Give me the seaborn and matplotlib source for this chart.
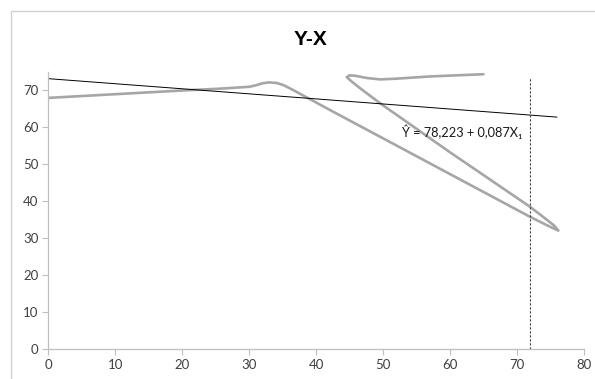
import numpy as np
import pandas as pd
import seaborn as sns
import matplotlib.pyplot as plt
from matplotlib.patches import Rectangle

# curve (in drawing order)
curve_x = [0, 10, 20, 25.7, 30, 31, 32, 33, 34.2, 35.2, 36.5, 42.1, 57, 72, 75, 76.2,
           75.6, 74.5, 72, 60, 49.6, 46.8, 45.2, 44.6, 45.0, 45.8, 47.5, 49.6, 52, 57, 65]
curve_y = [68, 69, 70, 70.5, 71.0, 71.4, 71.95, 72.2, 72.0, 71.4, 70.2, 64.7, 50.3, 35.8, 33.1, 32.1,
           33.4, 35.0, 38.5, 53.3, 66.5, 70.3, 72.6, 73.6, 74.1, 74.0, 73.4, 73.0, 73.2, 73.8, 74.4]

# trend line end points
trend_x = [0, 76]
trend_y = [73.2, 62.8]

# vertical marker
vline_x = 72
vline_top = 73.3

xticks = list(range(0, 90, 10))
yticks = list(range(0, 80, 10))
label = "Ŷ = 78,223 + 0,087X₁"

sns.set_style("white")
plt.rcParams['font.family'] = ['Lato', 'DejaVu Sans']

fig = plt.figure(figsize=(5.95, 3.79), dpi=100)
ax = fig.add_axes([0.0812, 0.0784, 0.9, 0.7316])

df = pd.DataFrame({'x': curve_x, 'y': curve_y})
sns.lineplot(data=df, x='x', y='y', sort=False, estimator=None, ax=ax,
             color='#a6a6a6', linewidth=1.9, solid_joinstyle='round', solid_capstyle='round')
sns.lineplot(x=trend_x, y=trend_y, ax=ax, color='black', linewidth=0.7)
ax.plot([vline_x, vline_x], [0, vline_top], color='#404040', linewidth=0.8,
        linestyle=(0, (2, 1.6)))

ax.text(52.8, 58.8, label, ha='left', va='center', fontsize=9.2, color='#1a1a1a',
        family=['Lato', 'DejaVu Sans'])

ax.set_xlim(0, 80)
ax.set_ylim(0, 75)
ax.set_xticks(xticks)
ax.set_yticks(yticks)
ax.set_xlabel('')
ax.set_ylabel('')
for s in ['top', 'right']:
    ax.spines[s].set_visible(False)
for s in ['left', 'bottom']:
    ax.spines[s].set_color('#bfbfbf')
    ax.spines[s].set_linewidth(0.9)
ax.tick_params(axis='both', length=4, width=0.8, color='#bfbfbf', labelsize=9.5,
               labelcolor='#404040', pad=3)
ax.tick_params(axis='y', direction='out', left=True)
ax.tick_params(axis='x', direction='out', bottom=True)

fig.text(0.521, 0.897, 'Y-X', ha='center', va='center', fontsize=15, fontweight='bold',
         family='Liberation Sans', color='black')

fig.patches.append(Rectangle((11 / 595, -0.05), 1.0, 1 - 11 / 379 + 0.05,
                             transform=fig.transFigure, fill=False,
                             edgecolor='#d0d0d0', linewidth=1.0))

plt.savefig('out.png', dpi=100)
